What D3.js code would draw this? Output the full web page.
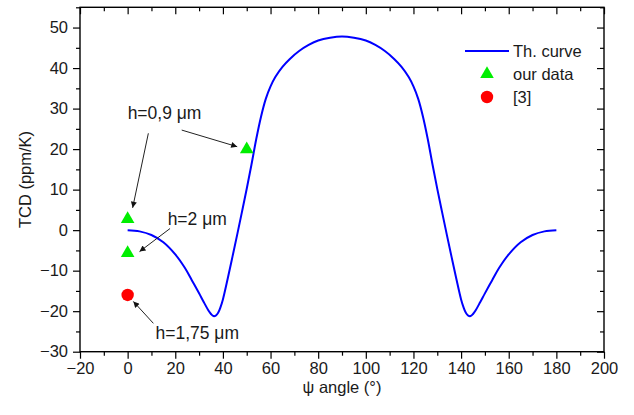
<!DOCTYPE html>
<html>
<head>
<meta charset="utf-8">
<script src="https://cdn.jsdelivr.net/npm/d3@7"></script>
<style>
  html, body { margin: 0; padding: 0; background: #fff; }
  svg { display: block; font-family: "Liberation Sans", Arial, sans-serif; }
</style>
</head>
<body>
<div id="chart"></div>
<script>
// ---- data ----
const curveAngles = [0, 5, 10, 15, 20, 24, 27, 30, 32, 34, 35, 36, 37, 38, 39, 40, 42, 44, 46, 48, 50, 52, 54, 56, 58, 60, 62, 65, 68, 72, 76, 80, 85, 90,
                     95, 100, 104, 108, 112, 115, 118, 120, 122, 124, 126, 128, 130, 132, 134, 136, 138, 140, 141, 142, 143, 144, 145, 146, 148, 150, 153, 156, 160, 165, 170, 175, 180];
const curveValues = [0, -0.3, -1.2, -3.0, -6.0, -9.3, -12.4, -15.6, -17.8, -19.9, -20.7, -21.2, -21.1, -20.4, -19.0, -17.1, -12.0, -6.6, -1.1, 4.5, 10.2, 16.2, 22.5, 28.0, 32.4, 35.5, 37.8, 40.3, 42.2, 44.2, 45.7, 46.8, 47.5, 47.8,
                     47.5, 46.8, 45.7, 44.2, 42.2, 40.3, 37.8, 35.5, 32.4, 28.0, 22.5, 16.2, 10.2, 4.5, -1.1, -6.6, -12.0, -17.1, -19.0, -20.4, -21.1, -21.2, -20.7, -19.9, -17.8, -15.6, -12.4, -9.3, -6.0, -3.0, -1.2, -0.3, 0];
const ourDataAngles = [0, 0, 50];
const ourDataValues = [3.0, -5.4, 20.2];
const refAngles = [0];
const refValues = [-16.0];
const xTicks = [-20, 0, 20, 40, 60, 80, 100, 120, 140, 160, 180, 200];
const yTicks = [-30, -20, -10, 0, 10, 20, 30, 40, 50];
const legendLabels = ["Th. curve", "our data", "[3]"];
const noteLabels = ["h=0,9 \u03BCm", "h=2 \u03BCm", "h=1,75 \u03BCm"];
const xTitle = "\u03C8 angle (\u00B0)";
const yTitle = "TCD (ppm/K)";

// ---- layout ----
const W = 634, H = 415;
const M = { left: 80, right: 30, top: 7.3, bottom: 63.3 };
const iw = W - M.left - M.right, ih = H - M.top - M.bottom;

const svg = d3.select("#chart").append("svg").attr("width", W).attr("height", H);
const g = svg.append("g").attr("transform", `translate(${M.left},${M.top})`);

const x = d3.scaleLinear().domain([-20, 200]).range([0, iw]);
const y = d3.scaleLinear().domain([-30, 55]).range([ih, 0]);

const textColor = "#1a1a1a";
const tickFont = "16.5px";

// minor ticks
const xMinor = d3.range(-20, 201, 10).filter(v => !xTicks.includes(v));
const yMinor = d3.range(-30, 56, 5).filter(v => !yTicks.includes(v));

function styleAxis(sel) {
  sel.select(".domain").remove();
  sel.selectAll(".tick line").attr("stroke", "#000").attr("stroke-width", 1.2);
  sel.selectAll(".tick text").attr("fill", textColor).style("font-size", tickFont)
     .style("font-family", "'Liberation Sans', Arial, sans-serif");
}
function minorAxis(sel) {
  sel.select(".domain").remove();
  sel.selectAll("line").attr("stroke", "#000").attr("stroke-width", 1.2);
}

// bottom
g.append("g").attr("transform", `translate(0,${ih})`)
  .call(d3.axisBottom(x).tickValues(xTicks).tickSize(7).tickSizeOuter(0).tickPadding(4).tickFormat(d3.format("d")))
  .call(styleAxis);
g.append("g").attr("transform", `translate(0,${ih})`)
  .call(d3.axisBottom(x).tickValues(xMinor).tickSize(4).tickFormat("")).call(minorAxis);
// top (inward)
g.append("g").call(d3.axisBottom(x).tickValues(xTicks).tickSize(7).tickFormat("")).call(styleAxis);
g.append("g").call(d3.axisBottom(x).tickValues(xMinor).tickSize(4).tickFormat("")).call(minorAxis);
// left
g.append("g")
  .call(d3.axisLeft(y).tickValues(yTicks).tickSize(7).tickSizeOuter(0).tickPadding(5).tickFormat(d3.format("d")))
  .call(styleAxis);
g.append("g").call(d3.axisLeft(y).tickValues(yMinor).tickSize(4).tickFormat("")).call(minorAxis);
// right (inward)
g.append("g").attr("transform", `translate(${iw},0)`)
  .call(d3.axisLeft(y).tickValues(yTicks).tickSize(7).tickFormat("")).call(styleAxis);
g.append("g").attr("transform", `translate(${iw},0)`)
  .call(d3.axisLeft(y).tickValues(yMinor).tickSize(4).tickFormat("")).call(minorAxis);
// frame
g.append("rect").attr("x", 0).attr("y", 0).attr("width", iw).attr("height", ih)
  .attr("fill", "none").attr("stroke", "#000").attr("stroke-width", 1.4);

// axis titles
svg.append("text").attr("x", M.left + iw / 2).attr("y", 393).attr("text-anchor", "middle")
  .attr("fill", textColor).style("font-size", "16.5px").text(xTitle);
svg.append("text").attr("transform", `translate(31,${M.top + ih / 2}) rotate(-90)`)
  .attr("text-anchor", "middle").attr("fill", textColor).style("font-size", "16.5px").text(yTitle);

// curve
const curveData = curveAngles.map((a, i) => [a, curveValues[i]]);
g.append("path").datum(curveData)
  .attr("fill", "none").attr("stroke", "#0000ff").attr("stroke-width", 2)
  .attr("d", d3.line().x(d => x(d[0])).y(d => y(d[1])).curve(d3.curveCatmullRom.alpha(0.5)));

// symbols
const tri = d3.symbol().type(d3.symbolTriangle).size(80);
g.selectAll(".our").data(ourDataAngles.map((a, i) => [a, ourDataValues[i]])).join("path")
  .attr("class", "our").attr("d", tri)
  .attr("transform", d => `translate(${x(d[0])},${y(d[1]) + 1})`)
  .attr("fill", "#00ee00");
g.selectAll(".ref").data(refAngles.map((a, i) => [a, refValues[i]])).join("circle")
  .attr("class", "ref").attr("cx", d => x(d[0])).attr("cy", d => y(d[1])).attr("r", 6.2)
  .attr("fill", "#ff0000");

// annotations (positions in data units)
const notePos = [[0, 27.4], [16.8, 1.2], [11.7, -26.9]];
const arrows = [
  [[8.7, 23.9], [2.1, 5.5]],
  [[22.7, 24.7], [46.0, 20.6]],
  [[17.8, 0.4], [5.0, -5.3]],
  [[10.8, -23.0], [2.4, -17.6]]
];
svg.append("defs").append("marker").attr("id", "ah")
  .attr("viewBox", "0 0 10 10").attr("refX", 10).attr("refY", 5)
  .attr("markerWidth", 8).attr("markerHeight", 6).attr("markerUnits", "userSpaceOnUse")
  .attr("orient", "auto")
  .append("path").attr("d", "M0,0 L10,5 L0,10 Z").attr("fill", "#111");
g.selectAll(".arr").data(arrows).join("line")
  .attr("x1", d => x(d[0][0])).attr("y1", d => y(d[0][1]))
  .attr("x2", d => x(d[1][0])).attr("y2", d => y(d[1][1]))
  .attr("stroke", "#222").attr("stroke-width", 1).attr("marker-end", "url(#ah)");
g.selectAll(".note").data(noteLabels).join("text")
  .attr("x", (d, i) => x(notePos[i][0])).attr("y", (d, i) => y(notePos[i][1]))
  .attr("fill", textColor).style("font-size", "17.5px").text(d => d);

// legend
const lg = svg.append("g");
lg.append("line").attr("x1", 465).attr("x2", 509).attr("y1", 51).attr("y2", 51)
  .attr("stroke", "#0000ff").attr("stroke-width", 2);
lg.append("path").attr("d", tri).attr("transform", "translate(487,74)").attr("fill", "#00ee00");
lg.append("circle").attr("cx", 487).attr("cy", 97).attr("r", 6.2).attr("fill", "#ff0000");
lg.selectAll("text").data(legendLabels).join("text")
  .attr("x", 513).attr("y", (d, i) => 57 + i * 23)
  .attr("fill", textColor).style("font-size", "16.5px").text(d => d);
</script>
</body>
</html>
